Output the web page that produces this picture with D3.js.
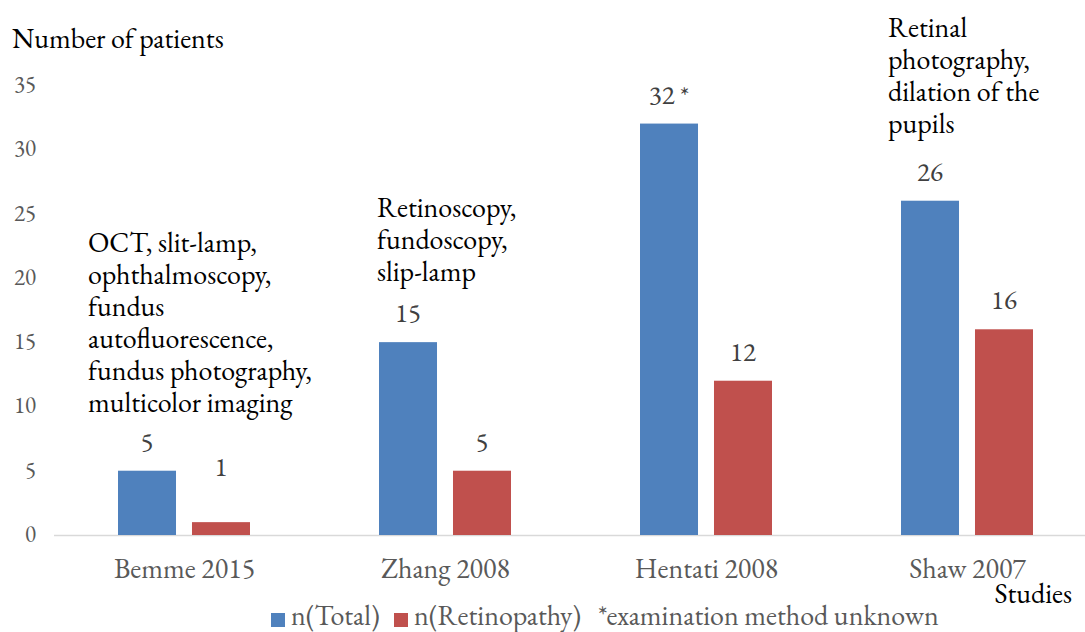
<!DOCTYPE html>
<html><head><meta charset="utf-8">
<script src="https://cdn.jsdelivr.net/npm/d3@7"></script>
<style>body{margin:0;background:#fff}svg{display:block}</style>
</head><body>
<script>
const categories = ["Bemme 2015","Zhang 2008","Hentati 2008","Shaw 2007"];
const seriesNames = ["n(Total)","n(Retinopathy)"];
const totalValues = [5,15,32,26];
const retinopathyValues = [1,5,12,16];
const totalLabels = ["5","15","32 *","26"];
const retinopathyLabels = ["1","5","12","16"];
const yTicks = [0,5,10,15,20,25,30,35];
const annotations = [
  ["OCT, slit-lamp,","ophthalmoscopy,","fundus","autofluorescence,","fundus photography,","multicolor imaging"],
  ["Retinoscopy,","fundoscopy,","slip-lamp"],
  [],
  ["Retinal","photography,","dilation of the","pupils"]
];
const footnote = "*examination method unknown";
const colors = ["#4F81BD","#C0504D"];

const FONT = "EB Garamond";
const W=1085,H=632;
const svg=d3.select("body").append("svg").attr("width",W).attr("height",H);
const T=sel=>sel.attr("font-family",FONT);
const x0=d3.scaleBand().domain(categories).range([54,1098]);
const x1=d3.scaleBand().domain(seriesNames).range([64,196]).paddingInner(0.216);
const y=d3.scaleLinear().domain([0,35]).range([535,85]);

svg.append("g").selectAll("text").data(yTicks).join("text").call(T)
  .attr("x",36).attr("y",d=>y(d)+7).attr("text-anchor","end")
  .attr("font-size",23).attr("fill","#595959").text(d=>d);

svg.append("line").attr("x1",54).attr("x2",1085).attr("y1",y(0)+0.5).attr("y2",y(0)+0.5)
  .attr("stroke","#D9D9D9").attr("stroke-width",1.5);

const series=[totalValues,retinopathyValues];
const labels=[totalLabels,retinopathyLabels];
series.forEach((vals,si)=>{
  const g=svg.append("g");
  g.selectAll("rect").data(vals).join("rect")
    .attr("x",(d,i)=>x0(categories[i])+x1(seriesNames[si]))
    .attr("y",d=>y(d)).attr("width",x1.bandwidth()).attr("height",d=>y(0)-y(d))
    .attr("fill",colors[si]);
  g.selectAll("text").data(vals).join("text").call(T)
    .attr("x",(d,i)=>x0(categories[i])+x1(seriesNames[si])+x1.bandwidth()/2)
    .attr("y",d=>y(d)-20-(d<3?26:0))
    .attr("text-anchor","middle").attr("font-size",27).attr("fill","#404040")
    .text((d,i)=>labels[si][i]);
});

svg.append("g").selectAll("text").data(categories).join("text").call(T)
  .attr("x",d=>x0(d)+x0.bandwidth()/2).attr("y",578).attr("text-anchor","middle")
  .attr("font-size",28).attr("fill","#595959").text(d=>d);

const annX=[88,377,0,888];
const annTop=[252,217,0,37];
annotations.forEach((lines,i)=>{
  svg.append("text").call(T).attr("x",annX[i]).attr("y",annTop[i]).attr("font-size",28).attr("fill","#000")
    .selectAll("tspan").data(lines).join("tspan").attr("x",annX[i]).attr("dy",(d,j)=>j?32:0).text(d=>d);
});

svg.append("text").call(T).attr("x",12).attr("y",48).attr("font-size",28).attr("fill","#000").text("Number of patients");
svg.append("text").call(T).attr("x",1072).attr("y",603).attr("text-anchor","end").attr("font-size",28).attr("fill","#000").text("Studies");

const leg=svg.append("g");
const legX=[271,394];
seriesNames.forEach((n,i)=>{
  leg.append("rect").attr("x",legX[i]).attr("y",613).attr("width",14).attr("height",14).attr("fill",colors[i]);
  leg.append("text").call(T).attr("x",legX[i]+20).attr("y",625).attr("font-size",28).attr("fill","#595959").text(n);
});
leg.append("text").call(T).attr("x",598).attr("y",625).attr("font-size",28).attr("fill","#595959").text(footnote);
</script>
</body></html>
